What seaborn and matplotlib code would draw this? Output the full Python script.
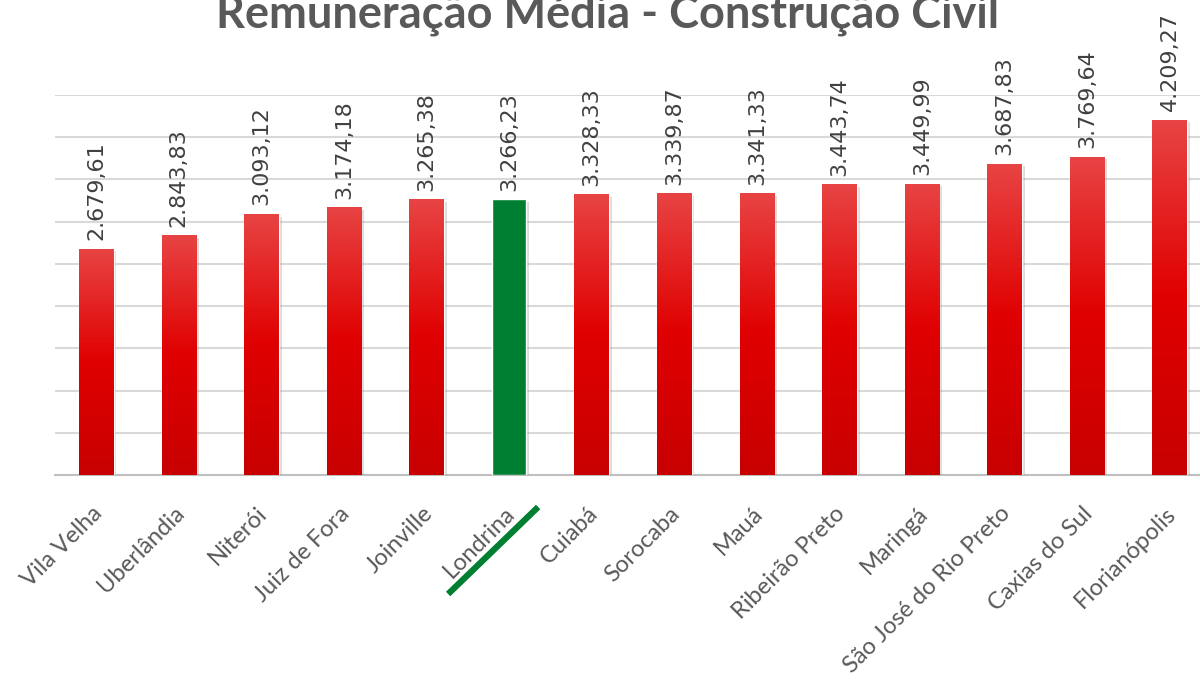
import numpy as np
import pandas as pd
import seaborn as sns
import matplotlib.pyplot as plt
import matplotlib.transforms as mtransforms
from matplotlib import patheffects as pe
from matplotlib.colors import LinearSegmentedColormap
from matplotlib.lines import Line2D

cidades = ['Vila Velha', 'Uberlândia', 'Niterói', 'Juiz de Fora', 'Joinville',
           'Londrina', 'Cuiabá', 'Sorocaba', 'Mauá', 'Ribeirão Preto',
           'Maringá', 'São José do Rio Preto', 'Caxias do Sul', 'Florianópolis']
remuneracao = [2679.61, 2843.83, 3093.12, 3174.18, 3265.38,
               3266.23, 3328.33, 3339.87, 3341.33, 3443.74,
               3449.99, 3687.83, 3769.64, 4209.27]
destaque = 'Londrina'

VERMELHO = '#DD0000'
VERDE = '#007F32'
CINZA = '#595959'

df = pd.DataFrame({'cidade': cidades, 'valor': remuneracao})
cores = {c: (VERDE if c == destaque else VERMELHO) for c in cidades}

sns.set_style('white')
plt.rcParams['font.family'] = ['DejaVu Sans']

fig = plt.figure(figsize=(12, 6.82), dpi=100)
ax = fig.add_axes([55 / 1200, 1 - 475 / 682, 1156 / 1200, 380 / 682])

sns.barplot(data=df, x='cidade', y='valor', hue='cidade', palette=cores,
            legend=False, width=0.42, saturation=1, ax=ax, zorder=3)

# degrade vertical nas barras vermelhas
grad = np.linspace(0, 1, 256).reshape(-1, 1)
cmap = LinearSegmentedColormap.from_list('verm', ['#C80000', '#E00000', '#E84444'])
for barra, cidade in zip(ax.patches, cidades):
    barra.set_path_effects([pe.SimplePatchShadow(offset=(2, -2), alpha=0.25,
                                                 shadow_rgbFace='#777777'),
                            pe.Normal()])
    if cidade == destaque:
        continue
    x0, y0 = barra.get_x(), barra.get_y()
    w, h = barra.get_width(), barra.get_height()
    im = ax.imshow(grad, cmap=cmap, aspect='auto', origin='lower',
                   extent=[x0, x0 + w, y0, y0 + h], zorder=4)
    im.set_clip_path(barra)

# rotulos de valor
for i, v in enumerate(remuneracao):
    txt = f'{v:,.2f}'.replace(',', 'X').replace('.', ',').replace('X', '.')
    ax.annotate(txt, (i, v), xytext=(0, 6), textcoords='offset points',
                rotation=90, ha='center', va='bottom', fontsize=16,
                color='#404040', annotation_clip=False)

ax.set_xlim(-0.5, len(cidades) - 0.5)
ax.set_ylim(0, 4500)
ax.set_yticks(np.arange(0, 4501, 500))
ax.set_yticklabels([])
ax.tick_params(axis='y', length=0)
ax.yaxis.grid(True, color='#D9D9D9', linewidth=1.5, zorder=0)
ax.set_axisbelow(True)
for s in ['top', 'right', 'left']:
    ax.spines[s].set_visible(False)
ax.spines['bottom'].set_color('#BFBFBF')
ax.spines['bottom'].set_linewidth(1.5)

# marcas entre categorias
ax.set_xticks(np.arange(-0.5, len(cidades), 1), minor=True)
ax.tick_params(axis='x', which='minor', length=7, width=1.5, color='#BFBFBF')
ax.tick_params(axis='x', which='major', length=0, pad=20)
ax.set_xticks(range(len(cidades)))
ax.set_xticklabels(cidades, rotation=45, ha='right', rotation_mode='anchor',
                   fontsize=17, color=CINZA, family='Lato')
desloc = mtransforms.ScaledTranslation(-5 / 100, 0, fig.dpi_scale_trans)
for rot in ax.get_xticklabels():
    rot.set_transform(rot.get_transform() + desloc)
ax.set_xlabel('')
ax.set_ylabel('')

# sublinhado verde sob Londrina, a partir da posicao da categoria
idx = cidades.index(destaque)
base = ax.get_xaxis_transform()
p0 = mtransforms.ScaledTranslation(29 / 100, -32 / 100, fig.dpi_scale_trans)
p1 = mtransforms.ScaledTranslation(-61 / 100, -119 / 100, fig.dpi_scale_trans)
xa, ya = (base + p0).transform((idx, 0))
xb, yb = (base + p1).transform((idx, 0))
linha = Line2D([xa, xb], [ya, yb], color=VERDE, linewidth=4.5,
               solid_capstyle='butt', clip_on=False,
               transform=mtransforms.IdentityTransform())
fig.add_artist(linha)

fig.text(0.506, 1 - 27 / 682, 'Remuneração Média - Construção Civil',
         ha='center', va='baseline', fontsize=32.5, fontweight='bold',
         color=CINZA, family='Lato')

fig.savefig('out.png', dpi=100)
